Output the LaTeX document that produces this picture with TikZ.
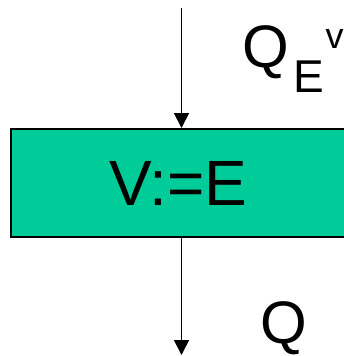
\documentclass[tikz,border=0pt]{standalone}
\usepackage{fontspec}
\setmainfont{Liberation Sans}
\usetikzlibrary{arrows.meta,positioning}
\definecolor{boxgreen}{RGB}{0,204,153}
\tikzset{
  blk/.style={draw, rectangle, fill=boxgreen, line width=2pt, inner sep=0pt, align=center, font=\fontsize{64}{64}\selectfont},
  lbl/.style={inner sep=0pt, font=\fontsize{60}{60}\selectfont},
  arr/.style={-{Triangle[length=15pt, width=15pt]}, line width=1.8pt},
}
\begin{document}
\begin{tikzpicture}[x=1pt, y=1pt]
\useasboundingbox (0,0) rectangle (344,-356);

% Assignment block
\node[blk, minimum width=335pt, minimum height=108pt] (assign) at (178.5,-183) {V:=E};

% Flow in and out
\coordinate (in) at (181.5,-8);
\coordinate (out) at (181.5,-355);
\draw[arr] (in) -- (in |- assign.north);
\draw[arr] (assign.south -| out) -- (out);

% Labels
\node[lbl, anchor=base west] (qev) at (242,-67) {Q\hspace{5pt}\raisebox{-25pt}{\fontsize{46}{46}\selectfont E}\hspace{1pt}\raisebox{19pt}{\fontsize{36}{36}\selectfont v}};
\node[lbl, anchor=base west] (q) at (260,-343) {\smash{Q}};

\end{tikzpicture}
\end{document}
